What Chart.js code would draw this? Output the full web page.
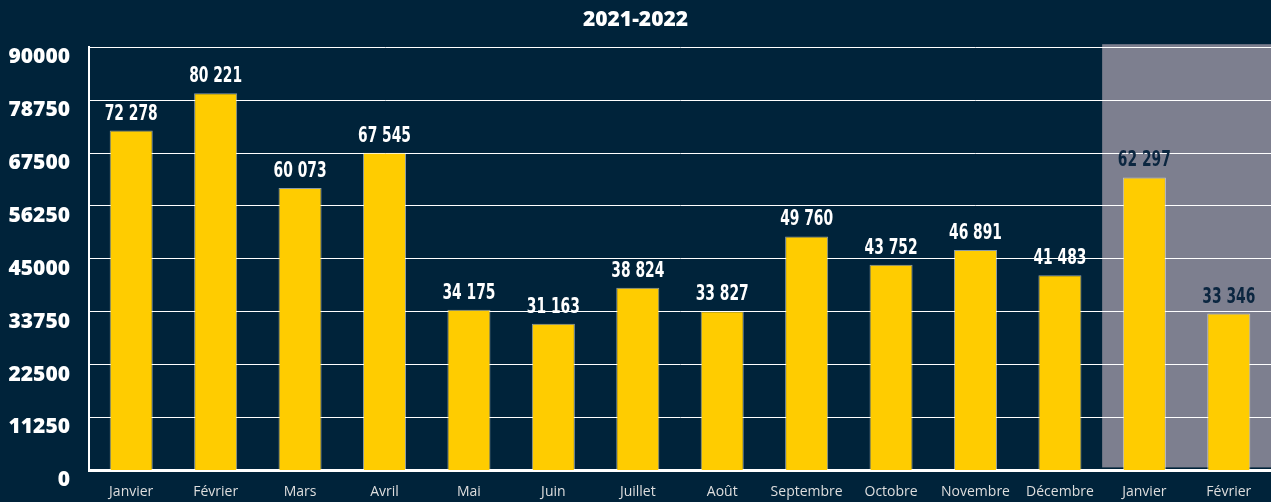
<!DOCTYPE html>
<html>
<head>
<meta charset="utf-8">
<script src="https://cdn.jsdelivr.net/npm/chart.js@4"></script>
<style>
  html, body { margin: 0; padding: 0; background: #00233a; }
  #wrap { width: 1271px; height: 502px; }
</style>
</head>
<body>
<div id="wrap"><canvas id="chart" width="1271" height="502"></canvas></div>
<script>
// data
const months = ['Janvier', 'Février', 'Mars', 'Avril', 'Mai', 'Juin', 'Juillet', 'Août',
    'Septembre', 'Octobre', 'Novembre', 'Décembre', 'Janvier', 'Février'];
const visits = [72278, 80221, 60073, 67545, 34175, 31163, 38824, 33827,
    49760, 43752, 46891, 41483, 62297, 33346];
const yTicks = [0, 11250, 22500, 33750, 45000, 56250, 67500, 78750, 90000];
const highlightFrom = 12; // 2022 months

const NAVY = '#00233a';
const GREY = '#7d7f8f';

function fmt(v) {
    return String(v).replace(/\B(?=(\d{3})+(?!\d))/g, ' ');
}

// fond + zone grisée (dessinée avant la grille)
const backdrop = {
    id: 'backdrop',
    beforeDraw(chart) {
        const { ctx, chartArea, scales } = chart;
        ctx.save();
        ctx.fillStyle = NAVY;
        ctx.fillRect(0, 0, chart.width, chart.height);
        const x = scales.x;
        const half = (x.getPixelForValue(1) - x.getPixelForValue(0)) / 2;
        const left = x.getPixelForValue(highlightFrom) - half;
        ctx.fillStyle = GREY;
        ctx.fillRect(left, chartArea.top - 3, chartArea.right - left, chartArea.bottom - chartArea.top);
        ctx.restore();
    }
};

// étiquettes de valeurs (police condensée simulée)
const valueLabels = {
    id: 'valueLabels',
    afterDatasetsDraw(chart) {
        const { ctx } = chart;
        const meta = chart.getDatasetMeta(0);
        const squeeze = 0.7;
        ctx.save();
        ctx.font = 'bold 22px "DejaVu Sans Condensed", "DejaVu Sans", sans-serif';
        ctx.textAlign = 'center';
        ctx.textBaseline = 'alphabetic';
        meta.data.forEach((bar, i) => {
            ctx.save();
            ctx.translate(bar.x, bar.y - 11);
            ctx.scale(squeeze, 1);
            ctx.fillStyle = i >= highlightFrom ? '#0b2640' : '#ffffff';
            ctx.fillText(fmt(visits[i]), 0, 0);
            ctx.restore();
        });
        ctx.restore();
    }
};

new Chart(document.getElementById('chart'), {
    type: 'bar',
    data: {
        labels: months,
        datasets: [{
            data: visits,
            backgroundColor: '#ffcc00',
            borderColor: 'rgba(255,255,255,0.55)',
            borderWidth: 1,
            barPercentage: 0.51,
            categoryPercentage: 1
        }]
    },
    options: {
        responsive: false,
        animation: false,
        layout: { padding: 0 },
        plugins: {
            legend: { display: false },
            tooltip: { enabled: false },
            title: {
                display: true,
                text: '2021-2022',
                color: '#ffffff',
                font: { family: 'Open Sans', size: 21, weight: 800 },
                padding: { top: 7, bottom: 15 }
            }
        },
        scales: {
            x: {
                grid: { display: false, drawTicks: false },
                border: { color: '#ffffff', width: 3 },
                ticks: {
                    color: '#dedede',
                    font: { family: 'Open Sans', size: 14 },
                    padding: 13,
                    maxRotation: 0,
                    autoSkip: false
                },
                afterFit(scale) { scale.height = 31; }
            },
            y: {
                min: 0,
                max: 90000,
                afterBuildTicks(scale) {
                    scale.ticks = yTicks.map(v => ({ value: v }));
                },
                grid: { color: '#ffffff', lineWidth: 1, drawTicks: false },
                border: { color: '#ffffff', width: 2 },
                ticks: {
                    color: '#ffffff',
                    font: { family: 'Open Sans', size: 21, weight: 800 },
                    padding: 19,
                    labelOffset: 10,
                    callback: v => String(v)
                },
                afterFit(scale) { scale.width = 89; }
            }
        }
    },
    plugins: [backdrop, valueLabels]
});
</script>
</body>
</html>
